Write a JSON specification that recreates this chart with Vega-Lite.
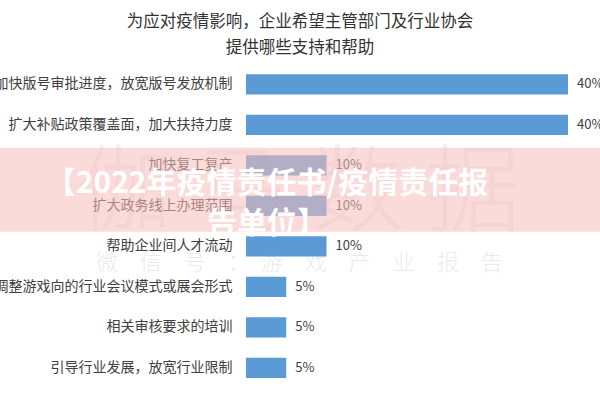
{
  "$schema": "https://vega.github.io/schema/vega-lite/v6.json",
  "autosize": {"type": "none"},
  "width": 322,
  "height": 324,
  "padding": {"left": 246, "top": 64, "right": 32, "bottom": 12},
  "background": "#ffffff",
  "title": {
    "text": ["为应对疫情影响，企业希望主管部门及行业协会", "提供哪些支持和帮助"],
    "font": "Noto Sans CJK SC",
    "fontSize": 16.5,
    "fontWeight": "normal",
    "color": "#333333",
    "lineHeight": 26,
    "anchor": "middle",
    "dx": -107,
    "offset": 8
  },
  "data": {"values": [
      {"label": "加快版号审批进度，放宽版号发放机制", "value": 0.4},
      {"label": "扩大补贴政策覆盖面，加大扶持力度", "value": 0.4},
      {"label": "加快复工复产", "value": 0.1},
      {"label": "扩大政务线上办理范围", "value": 0.1},
      {"label": "帮助企业间人才流动", "value": 0.1},
      {"label": "调整游戏向的行业会议模式或展会形式", "value": 0.05},
      {"label": "相关审核要求的培训", "value": 0.05},
      {"label": "引导行业发展，放宽行业限制", "value": 0.05}
    ]},
  "encoding": {
    "y": {
      "field": "label",
      "type": "nominal",
      "sort": null,
      "scale": {
        "paddingInner": 0.5,
        "paddingOuter": 0.25
      },
      "axis": {
        "title": null,
        "domain": false,
        "ticks": false,
        "labelPadding": 14,
        "labelFont": "Noto Sans CJK SC",
        "labelFontSize": 14,
        "labelColor": "#404040",
        "labelLimit": 400
      }
    }
  },
  "layer": [
    {
      "mark": {"type": "bar", "color": "#5b9bd5"},
      "encoding": {
        "x": {
          "field": "value",
          "type": "quantitative",
          "scale": {"domain": [0, 0.4], "nice": false, "zero": true},
          "axis": null
        }
      }
    },
    {
      "mark": {"type": "text", "align": "left", "baseline": "middle", "dx": 9, "font": "Noto Sans CJK SC", "fontSize": 13, "color": "#404040"},
      "encoding": {
        "x": {"field": "value", "type": "quantitative"},
        "text": {"field": "value", "type": "quantitative", "format": ".0%"}
      }
    },
    {
      "data": {"values": [{"label": "加快复工复产", "x": 0.066, "t": "伽 马 数 据"}]},
      "mark": {"type": "text", "font": "Noto Sans CJK SC", "fontSize": 95, "fontWeight": 300, "color": "#999999", "opacity": 0.13, "align": "center", "baseline": "middle", "dy": 30},
      "encoding": {
        "x": {"field": "x", "type": "quantitative"},
        "text": {"field": "t"}
      }
    },
    {
      "data": {"values": [{"label": "帮助企业间人才流动", "x": 0.066, "t": "微　信　号　：　游　戏　产　业　报　告"}]},
      "mark": {"type": "text", "font": "Noto Sans CJK SC", "fontSize": 22, "fontWeight": 300, "color": "#999999", "opacity": 0.2, "align": "center", "baseline": "middle", "dy": 17},
      "encoding": {
        "x": {"field": "x", "type": "quantitative"},
        "text": {"field": "t"}
      }
    },
    {
      "data": {"values": [{"label": "扩大政务线上办理范围", "x": -0.32, "x2": 0.45}]},
      "mark": {"type": "bar", "color": "#f8beb9", "opacity": 0.55, "height": 84, "yOffset": -16},
      "encoding": {
        "x": {"field": "x", "type": "quantitative"},
        "x2": {"field": "x2"}
      }
    },
    {
      "data": {"values": [{"label": "扩大政务线上办理范围", "cx": 0.026, "t": "【2022年疫情责任书/疫情责任报\n告单位】"}]},
      "mark": {"type": "text", "font": "Noto Sans CJK SC", "fontSize": 30, "fontWeight": "bold", "color": "#ffffff", "align": "center", "baseline": "middle", "lineHeight": 40, "lineBreak": "\n", "dy": -22},
      "encoding": {
        "x": {"field": "cx", "type": "quantitative"},
        "text": {"field": "t"}
      }
    }
  ],
  "config": {"view": {"stroke": null}}
}
